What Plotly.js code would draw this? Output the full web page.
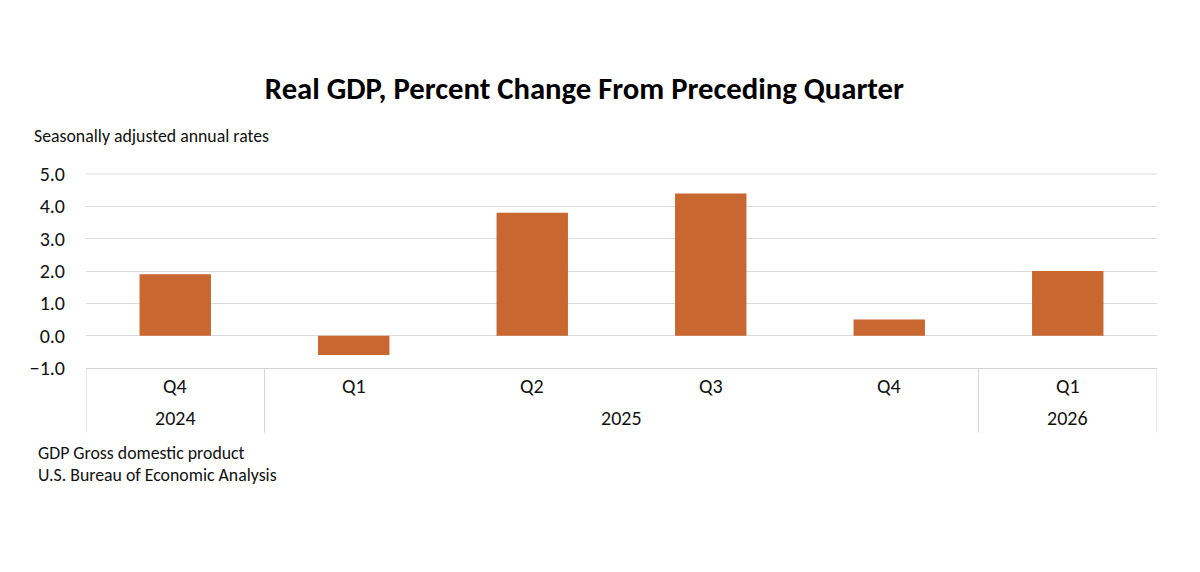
<!DOCTYPE html>
<html><head><meta charset="utf-8"><script src="https://cdn.plot.ly/plotly-3.0.1.min.js"></script>
<style>html,body{margin:0;padding:0;background:#fff}</style></head><body><div id="c" style="width:1200px;height:572px"></div>
<script>
const quarters=["Q4","Q1","Q2","Q3","Q4","Q1"];
const values=[1.9,-0.6,3.8,4.4,0.5,2.0];
const years=["2024","2025","2026"];
const yearPos=[0,2.5,5];
const yearSeps=[-0.5,0.5,4.5,5.5];
const yTicks=[-1,0,1,2,3,4,5];
const yTickLabels=["−1.0","0.0","1.0","2.0","3.0","4.0","5.0"];
const idx=quarters.map((_,i)=>i);
const F="Carlito, Calibri, 'Open Sans', 'Noto Sans', sans-serif";
const shapes=yearSeps.map(x=>({type:'line',xref:'x',yref:'paper',x0:x,x1:x,y0:0,y1:-0.3333,line:{color:'#d4d4d4',width:1}}));
shapes.push({type:'line',xref:'paper',yref:'paper',x0:0,x1:1,y0:1,y1:1,line:{color:'#dcdcdc',width:1}});
const ann=[];
quarters.forEach((q,i)=>ann.push({xref:'x',yref:'paper',x:i,y:0,yanchor:'middle',yshift:-18,text:q,showarrow:false,font:{family:F,size:20,color:'#111'}}));
years.forEach((q,i)=>ann.push({xref:'x',yref:'paper',x:yearPos[i],y:0,yanchor:'middle',yshift:-50,text:q,showarrow:false,font:{family:F,size:20,color:'#111'}}));
[["Seasonally adjusted annual rates",32,136],["GDP Gross domestic product",36,453],["U.S. Bureau of Economic Analysis",36,475]].forEach(t=>ann.push({xref:'paper',yref:'paper',x:(t[1]-86)/1071,y:1-(t[2]-174)/194,xanchor:'left',yanchor:'middle',text:t[0],showarrow:false,font:{family:F,size:17.8,color:'#111'}}));
Plotly.newPlot('c',[{type:'bar',x:idx,y:values,marker:{color:'#c8672f'},width:0.4}],{
 width:1200,height:572,showlegend:false,paper_bgcolor:'#fff',plot_bgcolor:'#fff',bargap:0.6,
 margin:{l:86,r:43,t:174,b:204},
 title:{text:"<b>Real GDP, Percent Change From Preceding Quarter</b>",x:0.487,xanchor:'center',y:0.845,yanchor:'middle',font:{family:F,size:30.7,color:'#000'}},
 xaxis:{range:[-0.5,5.5],showticklabels:false,ticks:'',showgrid:false,zeroline:false,showline:true,linecolor:'#d4d4d4',linewidth:1,anchor:'y'},
 yaxis:{range:[-1,5],tickvals:yTicks,ticktext:yTickLabels,showgrid:true,gridcolor:'#dcdcdc',gridwidth:1,zeroline:false,ticks:'outside',ticklen:16,tickcolor:'rgba(0,0,0,0)',tickfont:{family:F,size:20,color:'#111'}},
 shapes,annotations:ann
},{displayModeBar:false});
</script></body></html>
